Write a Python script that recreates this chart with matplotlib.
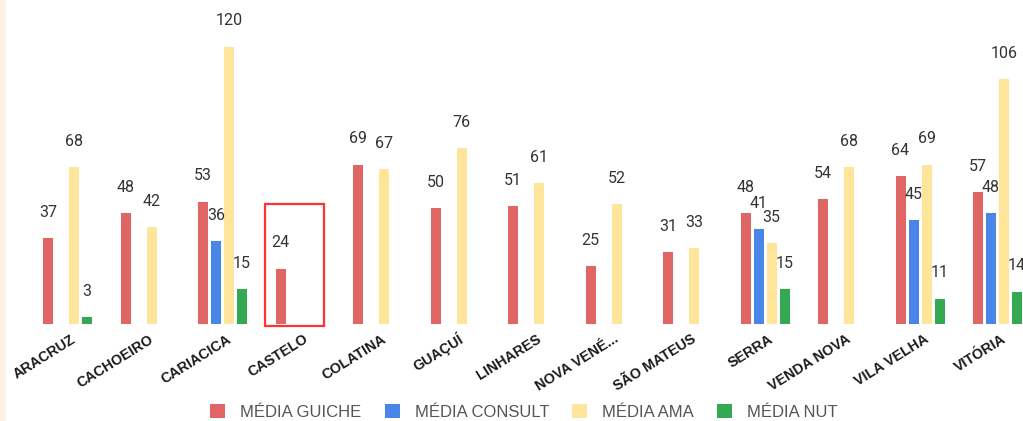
import matplotlib
matplotlib.use("Agg")
import matplotlib.pyplot as plt
import matplotlib.transforms as mtransforms
from matplotlib.patches import Rectangle
import numpy as np

cidades = ["ARACRUZ", "CACHOEIRO", "CARIACICA", "CASTELO", "COLATINA", "GUAÇUÍ",
           "LINHARES", "NOVA VENÉ...", "SÃO MATEUS", "SERRA", "VENDA NOVA",
           "VILA VELHA", "VITÓRIA"]
media_guiche = [37, 48, 53, 24, 69, 50, 51, 25, 31, 48, 54, 64, 57]
media_consult = [None, None, 36, None, None, None, None, None, None, 41, None, 45, 48]
media_ama = [68, 42, 120, None, 67, 76, 61, 52, 33, 35, 68, 69, 106]
media_nut = [3, None, 15, None, None, None, None, None, None, 15, None, 11, 14]

series = [("MÉDIA GUICHE", media_guiche, "#e06666"),
          ("MÉDIA CONSULT", media_consult, "#4a86e8"),
          ("MÉDIA AMA", media_ama, "#ffe599"),
          ("MÉDIA NUT", media_nut, "#34a853")]

W, H = 1023, 421
fig = plt.figure(figsize=(W / 100, H / 100), dpi=100)
fig.patch.set_facecolor("white")

# plot area: baseline at y=324px, full width
ax = fig.add_axes([0, 97 / H, 1, 324 / H])
ax.set_facecolor("white")

group_px = 77.5
offsets = np.array([-19.5, -6.5, 6.5, 19.5]) / group_px
bar_w = 10 / group_px
x = np.arange(len(cidades))

handles = []
for (nome, vals, cor), off in zip(series, offsets):
    xs = [xi + off for xi, v in zip(x, vals) if v is not None]
    ys = [v for v in vals if v is not None]
    b = ax.bar(xs, ys, width=bar_w, color=cor, label=nome, zorder=2)
    handles.append(b)
    for xx, yy in zip(xs, ys):
        ax.annotate(str(yy), (xx, yy), xytext=(0, 18.5), textcoords="offset points",
                    ha="center", va="center", fontsize=11.5, color="#333333",
                    family="Roboto", annotation_clip=False, clip_on=False)

ax.set_xlim(-67.5 / group_px, (W - 67.5) / group_px)
ax.set_ylim(0, 324 / 2.311)

for s in ax.spines.values():
    s.set_visible(False)
ax.set_yticks([])
ax.set_xticks(x)
ax.set_xticklabels(cidades, rotation=32, ha="right", va="center",
                   rotation_mode="anchor", fontsize=10.3, fontweight="bold",
                   family="Liberation Sans", color="#1a1a1a")
ax.tick_params(axis="x", length=0, pad=10)
shift = mtransforms.ScaledTranslation(7 / 100, 0, fig.dpi_scale_trans)
for lbl in ax.get_xticklabels():
    lbl.set_transform(lbl.get_transform() + shift)

# red highlight box around CASTELO
ax.add_patch(Rectangle((3 - 35 / group_px, -1), 59 / group_px, 53,
                       fill=False, edgecolor="#ff3333", linewidth=1.6,
                       clip_on=False, zorder=5))

# beige strip on the left edge
fig.patches.append(Rectangle((0, 0), 6 / W, 1, transform=fig.transFigure,
                             facecolor="#fdf2e4", edgecolor="none", zorder=3))

fig.legend(handles=handles, loc="center", bbox_to_anchor=(524 / W, 1 - 412 / H),
           ncol=4, frameon=False, prop={"family": "Liberation Sans", "size": 12},
           labelcolor="#555555", handlelength=0.9, handleheight=0.85,
           handletextpad=0.9, columnspacing=1.4)

fig.savefig("out.png", dpi=100)
